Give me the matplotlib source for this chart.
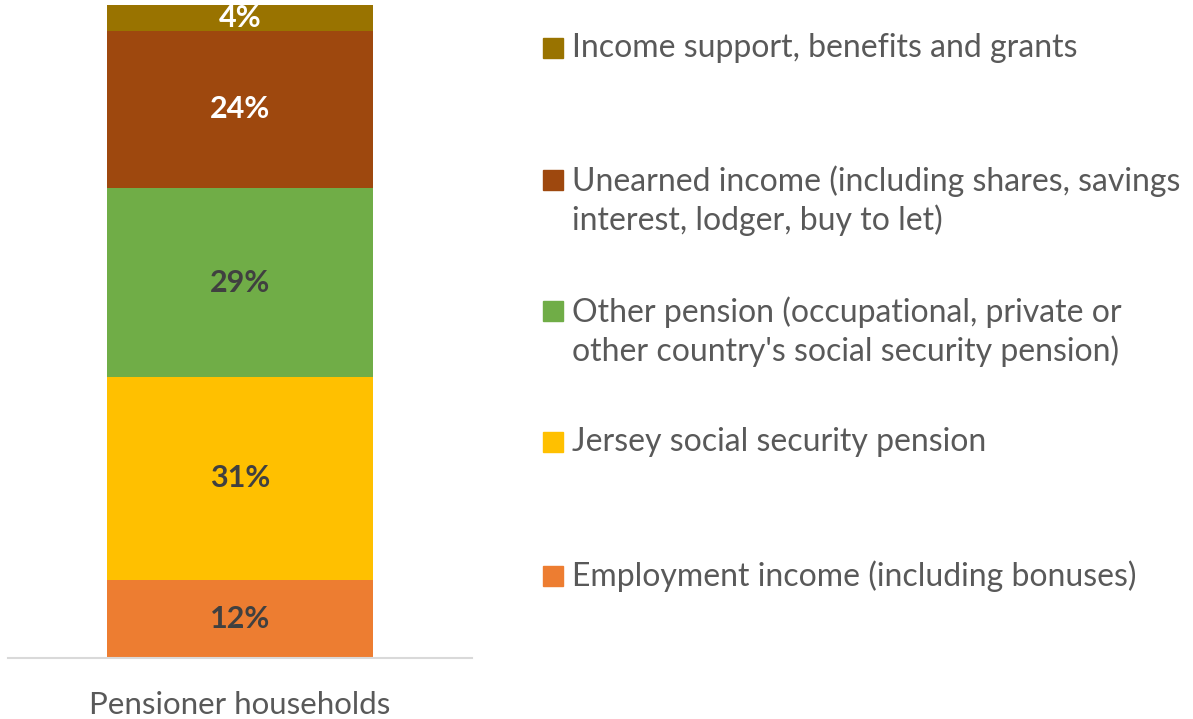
import matplotlib.pyplot as plt
from matplotlib.patches import Rectangle

# data (bottom to top)
categories = ["Employment income (including bonuses)",
              "Jersey social security pension",
              "Other pension (occupational, private or\nother country's social security pension)",
              "Unearned income (including shares, savings\ninterest, lodger, buy to let)",
              "Income support, benefits and grants"]
values = [12, 31, 29, 24, 4]
colors = ["#ED7D31", "#FFC000", "#70AD47", "#9E480E", "#997300"]
label_colors = ["#404040", "#404040", "#404040", "white", "white"]
group = "Pensioner households"

plt.rcParams['font.family'] = ['Lato', 'DejaVu Sans']

fig = plt.figure(figsize=(11.93, 7.19), dpi=100)
ax = fig.add_axes([8/1193, 61/719, 464/1193, 653/719])

bottom = 0
for v, c, lc in zip(values, colors, label_colors):
    ax.bar(0, v, width=0.575, bottom=bottom, color=c)
    ax.text(0, bottom + v/2, f"{v}%", ha='center', va='center',
            fontsize=22, fontweight='bold', color=lc)
    bottom += v

ax.set_xlim(-0.5, 0.5)
ax.set_ylim(0, 100)
for s in ['top', 'right', 'left']:
    ax.spines[s].set_visible(False)
ax.spines['bottom'].set_color('#D9D9D9')
ax.spines['bottom'].set_linewidth(1.5)
ax.set_yticks([])
ax.set_xticks([0])
ax.set_xticklabels([group], fontsize=22.5, color='#595959')
ax.tick_params(axis='x', length=0, pad=24)

# legend, drawn by hand (top entry first)
ys = [48, 201, 332, 442, 576]
for cat, c, y in zip(categories[::-1], colors[::-1], ys):
    first_line = y if '\n' not in cat else y - 21
    fig.patches.append(Rectangle((543/1193, 1 - (first_line + 10)/719), 20/1193, 20/719,
                                 transform=fig.transFigure, color=c))
    fig.text(572/1193, 1 - y/719, cat, ha='left', va='center', fontsize=23,
             color='#595959', linespacing=1.28)

fig.savefig("out.png", dpi=100)
